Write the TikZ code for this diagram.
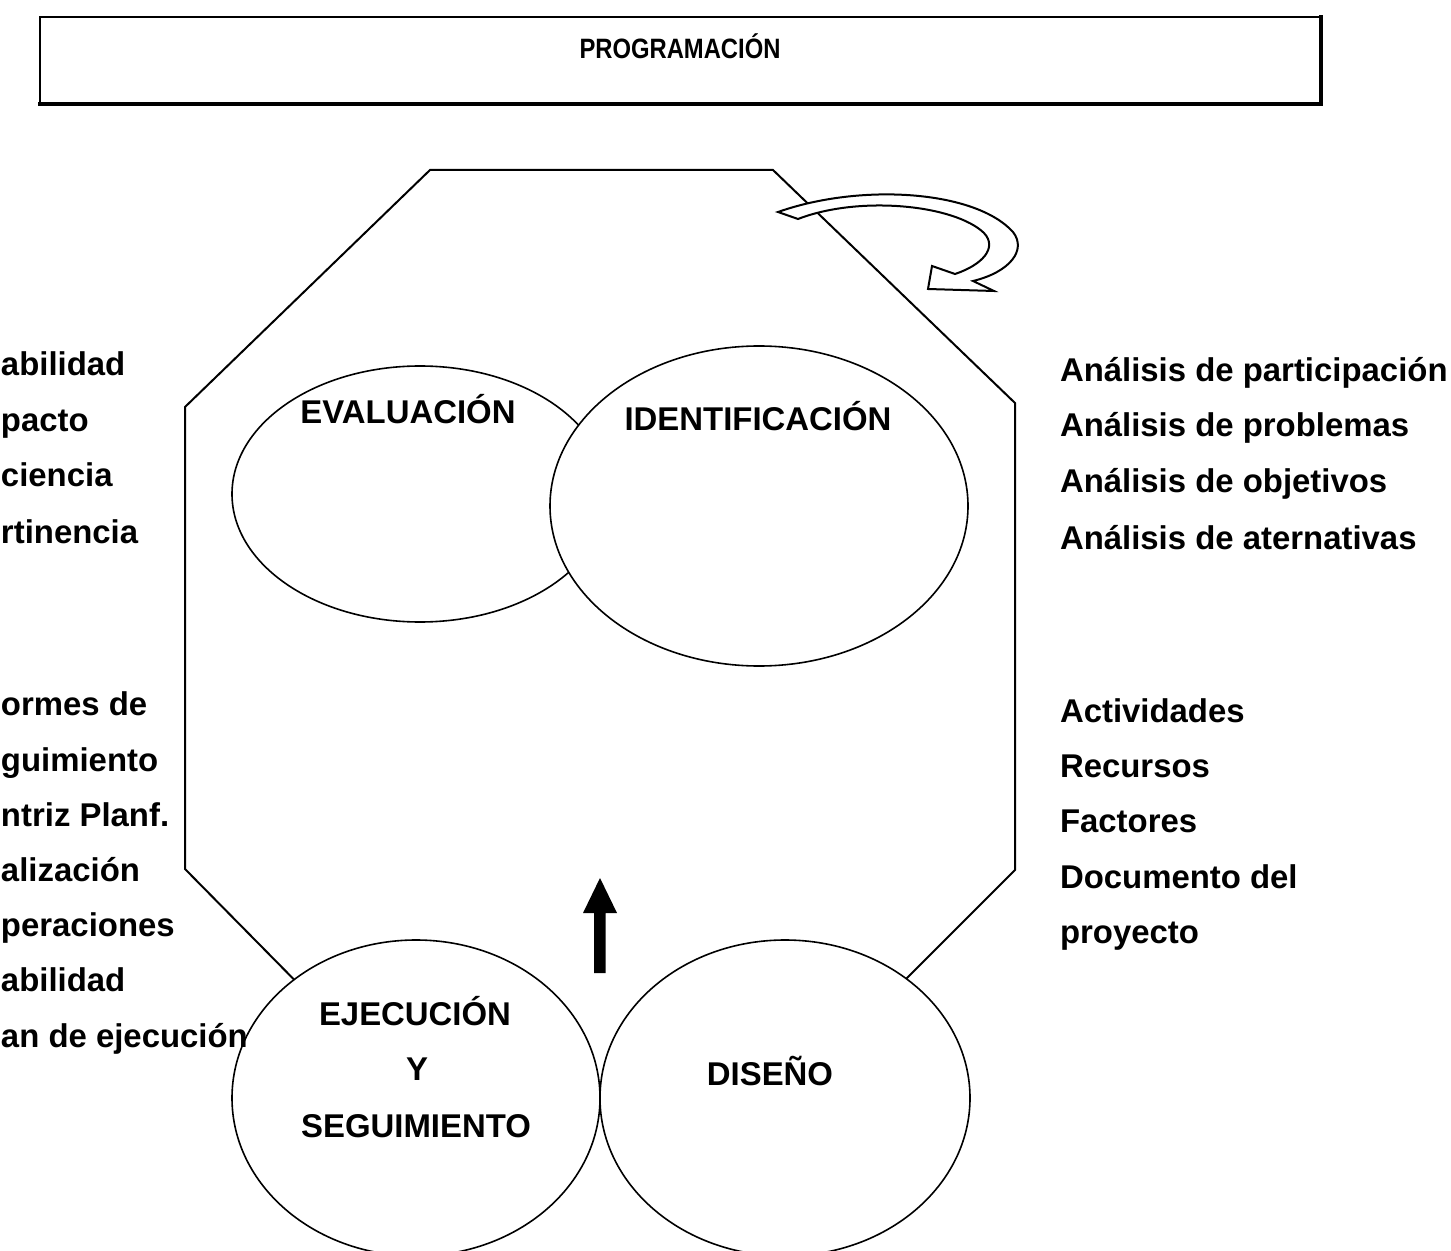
\documentclass[tikz,border=0pt]{standalone}
\usepackage{fontspec}
\usepackage{graphicx}
\setmainfont{Liberation Sans}
\usetikzlibrary{shapes.geometric}
\tikzset{
  lbl/.style={inner sep=0pt, outer sep=0pt, font=\fontsize{16.45}{20}\selectfont\bfseries},
  oval/.style={ellipse, draw, line width=0.8pt, fill=white, inner sep=0pt, outer sep=0pt},
  frame/.style={line width=1pt, line join=miter},
}
\begin{document}
\begin{tikzpicture}[x=0.5pt,y=-0.5pt]
\useasboundingbox (0,0) rectangle (1451,1251);
\clip (0,0) rectangle (1451,1251);
% title box
\node[draw, line width=0.9pt, minimum width=640.5pt, minimum height=43.5pt, inner sep=0pt, outer sep=0pt] (prog) at (680.5,60.5) {};
\draw[line width=2.2pt, line cap=rect] (prog.south west) -- (prog.south east) -- (prog.north east);
\node[inner sep=0pt, anchor=base, font=\fontsize{14}{16}\selectfont\bfseries] (progt) at (680,59) {\scalebox{0.85}[1]{PROGRAMACIÓN}};
% octagon
\coordinate (o1) at (330,1016);
\coordinate (o2) at (185,869);
\coordinate (o3) at (185,407);
\coordinate (o4) at (430,170);
\coordinate (o5) at (773,170);
\coordinate (o6) at (1015,403);
\coordinate (o7) at (1015,870);
\coordinate (o8) at (860,1025);
\draw[frame] (o1) -- (o2) -- (o3) -- (o4) -- (o5) -- (o6) -- (o7) -- (o8);
% curved arrow
\draw[line width=1pt, fill=white, line join=miter]
  (778,212) .. controls (860,183) and (975,190) .. (1013,232)
  .. controls (1027,250) and (1010,272) .. (973,281)
  -- (994,291) -- (928,289) -- (932,266) -- (955,274)
  .. controls (982,265) and (998,248) .. (984,233)
  .. controls (955,205) and (860,195) .. (798,219) -- cycle;
% ellipses
\node[oval, minimum width=188pt, minimum height=128pt] (eval) at (420,494) {};
\node[oval, minimum width=209pt, minimum height=160pt] (ident) at (759,506) {};
\node[oval, minimum width=184pt, minimum height=158pt] (ejec) at (416,1098) {};
\node[oval, minimum width=185pt, minimum height=158pt] (dis) at (785,1098) {};
% labels in ellipses
\node[lbl, anchor=base] (evalt) at (408,424) {EVALUACIÓN};
\node[lbl, anchor=base] (identt) at (758,430) {IDENTIFICACIÓN};
\node[lbl, anchor=base] (ejt1) at (415,1025) {EJECUCIÓN};
\node[lbl, anchor=base] (ejt2) at (417,1080) {Y};
\node[lbl, anchor=base] (ejt3) at (416,1137) {SEGUIMIENTO};
\node[lbl, anchor=base] (dist) at (770,1085) {DISEÑO};
% up arrow
\fill (600,878) -- (617,913) -- (605.5,913) -- (605.5,973) -- (594,973) -- (594,913) -- (583,913) -- cycle;
% right texts
\node[lbl, anchor=base west] (r1) at (1060,382) {Análisis de participación};
\node[lbl, anchor=base west] (r2) at (1060,437) {Análisis de problemas};
\node[lbl, anchor=base west] (r3) at (1060,493) {Análisis de objetivos};
\node[lbl, anchor=base west] (r4) at (1060,549) {Análisis de aternativas};
\node[lbl, anchor=base west] (r5) at (1060,722) {Actividades};
\node[lbl, anchor=base west] (r6) at (1060,777) {Recursos};
\node[lbl, anchor=base west] (r7) at (1060,832) {Factores};
\node[lbl, anchor=base west] (r8) at (1060,888) {Documento del};
\node[lbl, anchor=base west] (r9) at (1060,943) {proyecto};
% left texts (as printed, their start lies beyond the page edge)
\node[lbl, anchor=base west] (l1) at (1,376) {abilidad};
\node[lbl, anchor=base west] (l2) at (1,432) {pacto};
\node[lbl, anchor=base west] (l3) at (1,487) {ciencia};
\node[lbl, anchor=base west] (l4) at (1,543) {rtinencia};
\node[lbl, anchor=base west] (l5) at (1,715) {ormes de};
\node[lbl, anchor=base west] (l6) at (1,771) {guimiento};
\node[lbl, anchor=base west] (l7) at (1,826) {ntriz Planf.};
\node[lbl, anchor=base west] (l8) at (1,881) {alización};
\node[lbl, anchor=base west] (l9) at (1,936) {peraciones};
\node[lbl, anchor=base west] (l10) at (1,991) {abilidad};
\node[lbl, anchor=base west] (l11) at (1,1047) {an de ejecución};
\end{tikzpicture}
\end{document}
